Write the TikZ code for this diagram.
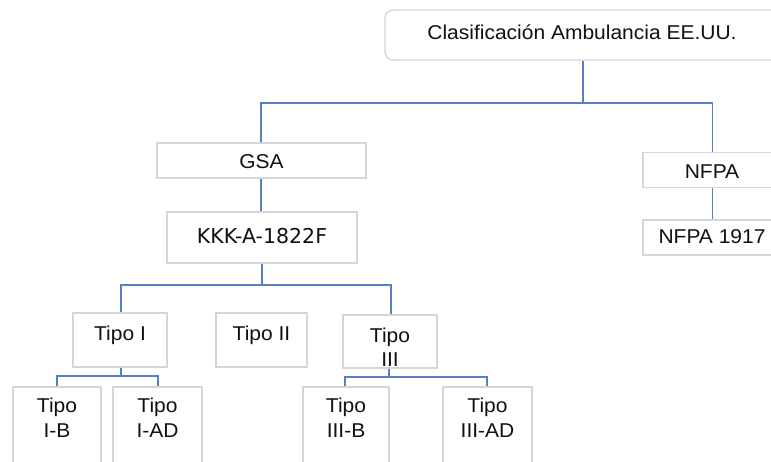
\documentclass[tikz,border=0pt]{standalone}
\usepackage{fontspec}
\setmainfont{Liberation Sans}[FakeStretch=1.05]
\newfontfamily\kkkfont{DejaVu Sans}
\definecolor{conn}{HTML}{5580C6}
\definecolor{boxline}{HTML}{D6D6D6}
\definecolor{txtc}{HTML}{111111}
\begin{document}
\begin{tikzpicture}[x=1pt,y=-1pt,
  box/.style={draw=boxline,line width=1.3pt,fill=white,inner sep=0pt},
  lbl/.style={text=txtc,font=\fontsize{20}{24.5}\selectfont,inner sep=0pt,align=center,anchor=base},
  conline/.style={draw=conn,line width=1.7pt}]
\useasboundingbox (0,0) rectangle (771,461);
\clip (0,0) rectangle (771,461);
% boxes
\node[box,rounded corners=8pt,minimum width=394pt,minimum height=50pt] (top) at (582,35) {};
\node[box,minimum width=209pt,minimum height=35pt] (gsa) at (261.5,160.5) {};
\node[box,minimum width=190pt,minimum height=51pt] (kkk) at (262,237.5) {};
\node[box,minimum width=138pt,minimum height=35pt] (nfpa) at (712,170) {};
\node[box,minimum width=138pt,minimum height=35pt] (nfpa2) at (712,237.5) {};
\node[box,minimum width=94pt,minimum height=54pt] (t1) at (120,340) {};
\node[box,minimum width=91pt,minimum height=54pt] (t2) at (261.5,340) {};
\node[box,minimum width=94pt,minimum height=53pt] (t3) at (390,341.5) {};
\node[box,minimum width=88pt,minimum height=90pt] (t1b) at (57,432) {};
\node[box,minimum width=89pt,minimum height=90pt] (t1ad) at (157.5,432) {};
\node[box,minimum width=86pt,minimum height=90pt] (t3b) at (346,432) {};
\node[box,minimum width=89pt,minimum height=90pt] (t3ad) at (487.5,432) {};
% texts (anchor=base is the baseline of the last line)
\node[lbl] (topt) at (582,39) {Clasificación Ambulancia EE.UU.};
\node[lbl] (gsat) at (261.5,168.5) {GSA};
\node[lbl,font=\kkkfont\fontsize{20.5}{24}\selectfont] (kkkt) at (262,243.5) {KKK-A-1822F};
\node[lbl] (nfpat) at (712,178) {NFPA};
\node[lbl] (nfpa2t) at (712,243) {NFPA 1917};
\node[lbl] (t1t) at (120,340) {Tipo I};
\node[lbl] (t2t) at (261.5,340) {Tipo II};
\node[lbl] (t3t) at (390,366.5) {Tipo\\III};
\node[lbl] (t1bt) at (57,437) {Tipo\\I-B};
\node[lbl] (t1adt) at (157.5,437) {Tipo\\I-AD};
\node[lbl] (t3bt) at (346,437) {Tipo\\III-B};
\node[lbl] (t3adt) at (487.5,437) {Tipo\\III-AD};
% connectors
\draw[conline] (top.south -| 583,0) |- (261,103) -- (gsa.north -| 261,0);
\draw[conline] (top.south -| 583,0) |- (712.5,103) -- (nfpa.north -| 712.5,0);
\draw[conline] (gsa.south -| 261,0) -- (kkk.north -| 261,0);
\draw[conline] (nfpa.south -| 712.5,0) -- (nfpa2.north -| 712.5,0);
\draw[conline] (kkk.south) |- (121,285) -- (t1.north -| 121,0);
\draw[conline] (kkk.south) |- (391,285) -- (t3.north -| 391,0);
\draw[conline] (t1.south -| 121,0) |- (57,376) -- (t1b.north);
\draw[conline] (t1.south -| 121,0) |- (158,376) -- (t1ad.north -| 158,0);
\draw[conline] (t3.south -| 389,0) |- (345,377) -- (t3b.north -| 345,0);
\draw[conline] (t3.south -| 389,0) |- (487,377) -- (t3ad.north -| 487,0);
\end{tikzpicture}
\end{document}
